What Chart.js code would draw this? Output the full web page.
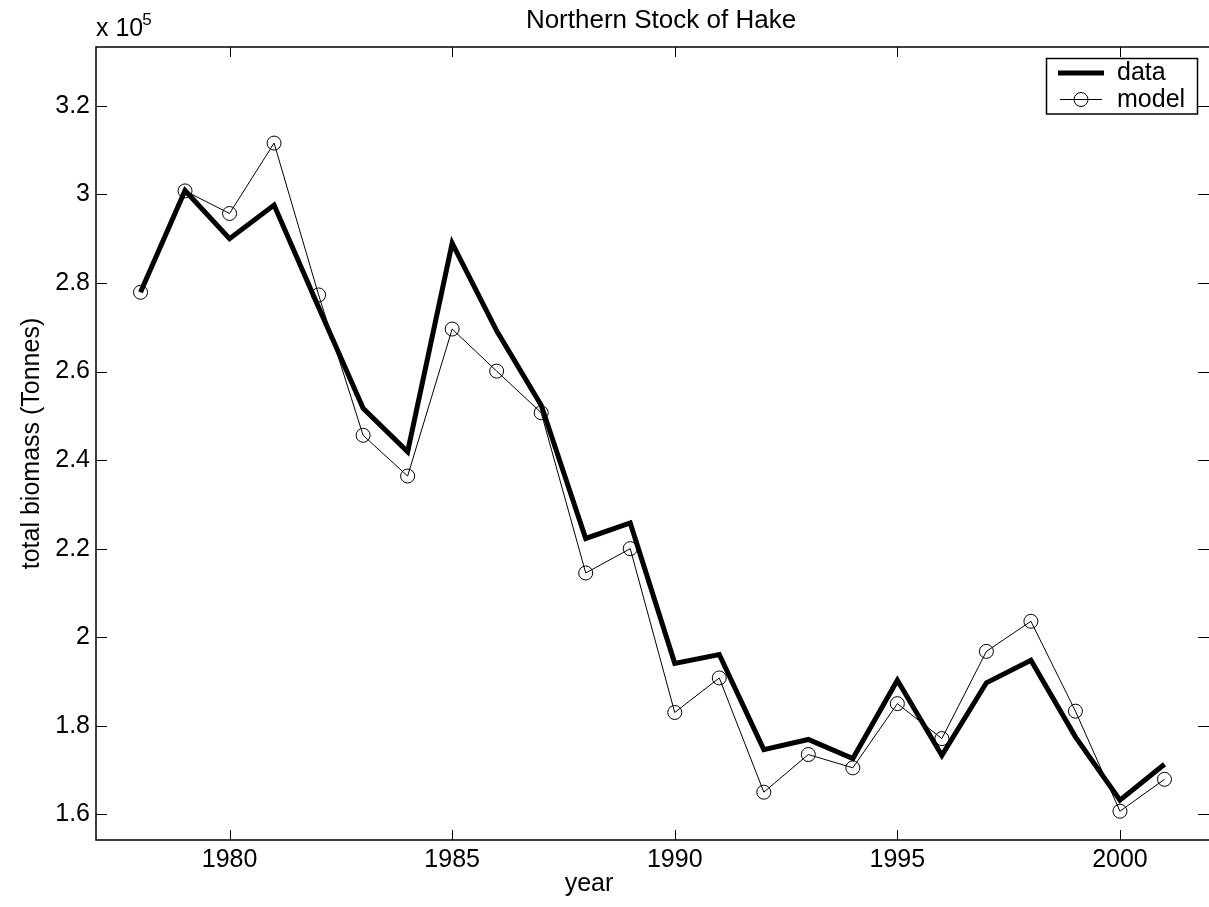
<!DOCTYPE html>
<html>
<head>
<meta charset="utf-8">
<title>Northern Stock of Hake</title>
<script src="https://cdn.jsdelivr.net/npm/chart.js@4"></script>
<style>
  html, body { margin: 0; padding: 0; background: #fff; }
  canvas { display: block; }
</style>
</head>
<body>
<canvas id="chart" width="1209" height="907"></canvas>
<script>
// ---- Data (biomass in units of 10^5 tonnes) ----
const years = [1978, 1979, 1980, 1981, 1982, 1983, 1984, 1985, 1986, 1987, 1988, 1989,
               1990, 1991, 1992, 1993, 1994, 1995, 1996, 1997, 1998, 1999, 2000, 2001];
const dataBiomass = [2.779, 3.009, 2.900, 2.976, 2.745, 2.517, 2.419, 2.890, 2.692, 2.524, 2.223, 2.258,
                     1.941, 1.961, 1.746, 1.769, 1.726, 1.903, 1.733, 1.897, 1.948, 1.775, 1.632, 1.713];
const modelBiomass = [2.779, 3.008, 2.957, 3.116, 2.773, 2.456, 2.364, 2.696, 2.601, 2.507, 2.145, 2.200,
                      1.830, 1.908, 1.650, 1.735, 1.705, 1.850, 1.771, 1.968, 2.036, 1.833, 1.607, 1.679];
const xTicks = [1980, 1985, 1990, 1995, 2000];
const yTicks = [1.6, 1.8, 2.0, 2.2, 2.4, 2.6, 2.8, 3.0, 3.2];

const FONT = "'Liberation Sans', Arial, Helvetica, sans-serif";
Chart.defaults.font.family = FONT;
Chart.defaults.font.size = 25;
Chart.defaults.color = "#000";

// Matlab-style box, inward ticks on all four sides, title, x label and legend.
const frame = {
  id: "frame",
  afterDraw(chart) {
    const { ctx, chartArea: a, scales: { x, y } } = chart;
    ctx.save();
    ctx.strokeStyle = "#000";

    // box (right side runs off the canvas edge)
    ctx.lineWidth = 1.5;
    ctx.beginPath();
    ctx.moveTo(a.right + 2, a.top);
    ctx.lineTo(a.left, a.top);
    ctx.lineTo(a.left, a.bottom);
    ctx.lineTo(a.right + 2, a.bottom);
    ctx.stroke();

    // ticks (pointing inward)
    ctx.lineWidth = 1;
    ctx.beginPath();
    xTicks.forEach((v) => {
      const px = Math.round(x.getPixelForValue(v)) + 0.5;
      ctx.moveTo(px, a.bottom); ctx.lineTo(px, a.bottom - 10);
      ctx.moveTo(px, a.top); ctx.lineTo(px, a.top + 10);
    });
    yTicks.forEach((v) => {
      const py = Math.round(y.getPixelForValue(v)) + 0.5;
      ctx.moveTo(a.left, py); ctx.lineTo(a.left + 11, py);
      ctx.moveTo(a.right, py); ctx.lineTo(a.right - 11, py);
    });
    ctx.stroke();

    // title
    ctx.fillStyle = "#000";
    ctx.font = `26px ${FONT}`;
    ctx.textAlign = "center";
    ctx.textBaseline = "alphabetic";
    ctx.fillText("Northern Stock of Hake", 661, 28);

    // x axis label
    ctx.font = `25px ${FONT}`;
    ctx.textBaseline = "middle";
    ctx.fillText("year", 589, 884);
    ctx.textBaseline = "alphabetic";

    // exponent label above the y axis
    ctx.textAlign = "left";
    ctx.fillText("x 10", a.left, 36);
    const w = ctx.measureText("x 10").width;
    ctx.font = `17px ${FONT}`;
    ctx.fillText("5", a.left + w - 1, 25);

    // legend
    ctx.lineWidth = 1.5;
    ctx.strokeRect(1046.5, 58.5, 151, 55.5);
    ctx.lineWidth = 5;
    ctx.beginPath();
    ctx.moveTo(1058, 73); ctx.lineTo(1104, 73);
    ctx.stroke();
    ctx.lineWidth = 1;
    ctx.beginPath();
    ctx.moveTo(1060, 99.5); ctx.lineTo(1102, 99.5);
    ctx.stroke();
    ctx.beginPath();
    ctx.arc(1081, 99.5, 7, 0, Math.PI * 2);
    ctx.stroke();
    ctx.font = `25px ${FONT}`;
    ctx.fillText("data", 1117, 80);
    ctx.fillText("model", 1117, 107);
    ctx.restore();
  },
};

new Chart(document.getElementById("chart"), {
  type: "line",
  data: {
    datasets: [
      {
        label: "data",
        data: years.map((yr, i) => ({ x: yr, y: dataBiomass[i] })),
        borderColor: "#000",
        borderWidth: 5,
        borderJoinStyle: "miter",
        pointRadius: 0,
        tension: 0,
        fill: false,
      },
      {
        label: "model",
        data: years.map((yr, i) => ({ x: yr, y: modelBiomass[i] })),
        borderColor: "#000",
        borderWidth: 1,
        pointRadius: 7,
        pointBorderWidth: 1,
        pointBorderColor: "#000",
        pointBackgroundColor: "rgba(0,0,0,0)",
        tension: 0,
        fill: false,
      },
    ],
  },
  options: {
    responsive: false,
    animation: false,
    events: [],
    layout: { autoPadding: false, padding: { top: 47, right: 0, bottom: 0, left: 0 } },
    plugins: { legend: { display: false }, tooltip: { enabled: false }, title: { display: false } },
    scales: {
      x: {
        type: "linear",
        min: 1977,
        max: 2002,
        grid: { display: false, drawTicks: false },
        border: { display: false },
        afterBuildTicks: (s) => { s.ticks = xTicks.map((v) => ({ value: v })); },
        afterFit: (s) => { s.height = 67; s.paddingLeft = 0; s.paddingRight = 0; },
        ticks: { padding: 5, maxRotation: 0, callback: (v) => String(v) },
      },
      y: {
        min: 1.542,
        max: 3.333,
        grid: { display: false, drawTicks: false },
        border: { display: false },
        afterBuildTicks: (s) => { s.ticks = yTicks.map((v) => ({ value: v })); },
        afterFit: (s) => { s.width = 96; s.paddingTop = 0; s.paddingBottom = 0; },
        ticks: { padding: 6, callback: (v) => String(Math.round(v * 10) / 10) },
        title: { display: true, text: "total biomass (Tonnes)", padding: { top: 17, bottom: 0 } },
      },
    },
  },
  plugins: [frame],
});
</script>
</body>
</html>
